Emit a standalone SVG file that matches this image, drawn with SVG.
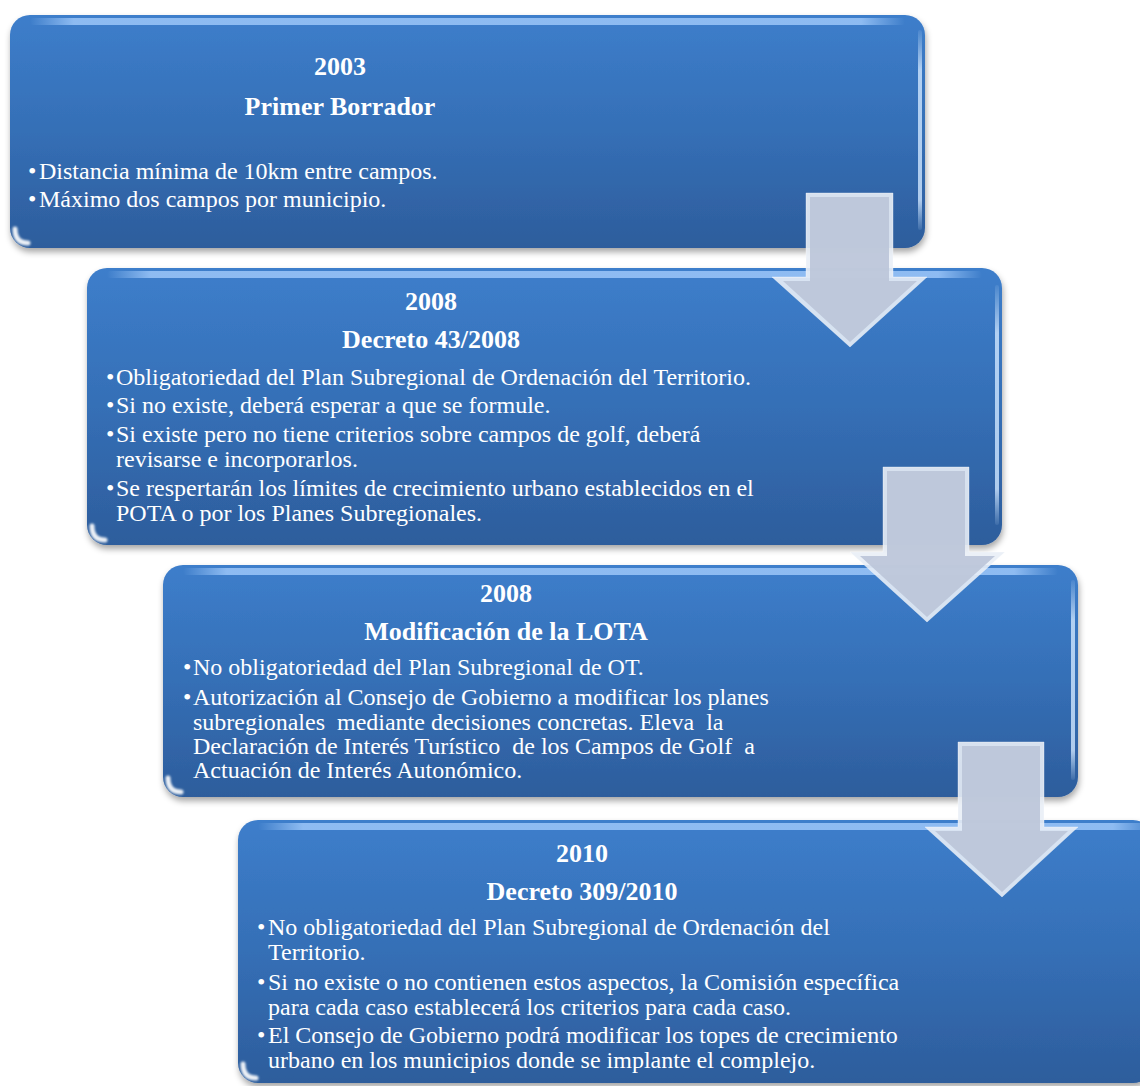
<svg xmlns="http://www.w3.org/2000/svg" width="1140" height="1086" viewBox="0 0 1140 1086">
<defs>
<linearGradient id="boxFill" x1="0" y1="0" x2="0" y2="1">
<stop offset="0" stop-color="#3d7ecb"/>
<stop offset="0.5" stop-color="#356fb6"/>
<stop offset="1" stop-color="#2d5d9c"/>
</linearGradient>
<linearGradient id="topGloss" x1="0" y1="0" x2="1" y2="0">
<stop offset="0" stop-color="#a9d0ff" stop-opacity="0"/>
<stop offset="0.05" stop-color="#a9d0ff" stop-opacity="0.75"/>
<stop offset="0.95" stop-color="#a9d0ff" stop-opacity="0.75"/>
<stop offset="1" stop-color="#a9d0ff" stop-opacity="0"/>
</linearGradient>
<linearGradient id="sideGloss" x1="0" y1="0" x2="0" y2="1">
<stop offset="0" stop-color="#cfe6ff" stop-opacity="0.1"/>
<stop offset="0.2" stop-color="#cfe6ff" stop-opacity="0.8"/>
<stop offset="0.85" stop-color="#cfe6ff" stop-opacity="0.8"/>
<stop offset="1" stop-color="#cfe6ff" stop-opacity="0.1"/>
</linearGradient>
<filter id="shadow" x="-5%" y="-5%" width="110%" height="120%">
<feGaussianBlur in="SourceAlpha" stdDeviation="3"/>
<feOffset dx="1" dy="4" result="b"/>
<feFlood flood-color="#000" flood-opacity="0.35"/>
<feComposite in2="b" operator="in"/>
<feMerge><feMergeNode/><feMergeNode in="SourceGraphic"/></feMerge>
</filter>
<filter id="soft" x="-50%" y="-50%" width="200%" height="200%">
<feGaussianBlur stdDeviation="1.2"/>
</filter>
</defs>
<style>
.box{fill:url(#boxFill);filter:url(#shadow)}
.gloss{fill:url(#topGloss)}
.side{fill:url(#sideGloss)}
.corner{fill:none;stroke:#ffffff;stroke-opacity:0.9;stroke-width:5;stroke-linecap:round;filter:url(#soft)}
.h{font-family:"Liberation Serif","Times New Roman",serif;font-size:26px;font-weight:bold;fill:#ffffff;text-anchor:middle}
.t{font-family:"Liberation Serif","Times New Roman",serif;font-size:24px;fill:#ffffff;white-space:pre}
.arrowOuter{fill:#e9eef6;fill-opacity:0.9}
.arrowInner{fill:#bcc6d9;fill-opacity:0.92}
.arrowEdge{fill:none;stroke:#ffffff;stroke-opacity:0.35;stroke-width:1}
</style>

<g id="node-2003">
<rect class="box" x="10" y="15" width="915" height="233" rx="20"/>
<rect class="gloss" x="30" y="18" width="875" height="7" rx="3.5"/>
<rect class="side" x="918" y="30" width="4" height="200" rx="2"/>
<path class="corner" d="M15,229 Q15,243 28,243"/>
<text class="h" x="340" y="75">2003</text>
<text class="h" x="340" y="115">Primer Borrador</text>
<text class="t" x="28" y="179">•</text>
<text class="t" x="39" y="179">Distancia mínima de 10km entre campos.</text>
<text class="t" x="28" y="207">•</text>
<text class="t" x="39" y="207">Máximo dos campos por municipio.</text>
</g>

<g id="node-2008-decreto">
<rect class="box" x="87" y="268" width="915" height="277" rx="20"/>
<rect class="gloss" x="107" y="271" width="875" height="7" rx="3.5"/>
<rect class="side" x="995" y="285" width="4" height="240" rx="2"/>
<path class="corner" d="M92,526 Q92,540 105,540"/>
<text class="h" x="431" y="310">2008</text>
<text class="h" x="431" y="348">Decreto 43/2008</text>
<text class="t" x="106" y="385">•</text>
<text class="t" x="116" y="385">Obligatoriedad del Plan Subregional de Ordenación del Territorio.</text>
<text class="t" x="106" y="413">•</text>
<text class="t" x="116" y="413">Si no existe, deberá esperar a que se formule.</text>
<text class="t" x="106" y="442">•</text>
<text class="t" x="116" y="442">Si existe pero no tiene criterios sobre campos de golf, deberá</text>
<text class="t" x="116" y="467">revisarse e incorporarlos.</text>
<text class="t" x="106" y="496">•</text>
<text class="t" x="116" y="496">Se respertarán los límites de crecimiento urbano establecidos en el</text>
<text class="t" x="116" y="521">POTA o por los Planes Subregionales.</text>
</g>

<g id="node-2008-lota">
<rect class="box" x="163" y="565" width="915" height="232" rx="20"/>
<rect class="gloss" x="183" y="568" width="875" height="7" rx="3.5"/>
<rect class="side" x="1071" y="580" width="4" height="200" rx="2"/>
<path class="corner" d="M168,778 Q168,792 181,792"/>
<text class="h" x="506" y="602">2008</text>
<text class="h" x="506" y="640">Modificación de la LOTA</text>
<text class="t" x="183" y="675">•</text>
<text class="t" x="193" y="675">No obligatoriedad del Plan Subregional de OT.</text>
<text class="t" x="183" y="705">•</text>
<text class="t" x="193" y="705">Autorización al Consejo de Gobierno a modificar los planes</text>
<text class="t" x="193" y="730">subregionales  mediante decisiones concretas. Eleva  la</text>
<text class="t" x="193" y="754">Declaración de Interés Turístico  de los Campos de Golf  a</text>
<text class="t" x="193" y="778">Actuación de Interés Autonómico.</text>
</g>

<g id="node-2010">
<rect class="box" x="238" y="820" width="915" height="263" rx="20"/>
<rect class="gloss" x="258" y="823" width="900" height="7" rx="3.5"/>
<path class="corner" d="M243,1064 Q243,1078 256,1078"/>
<text class="h" x="582" y="862">2010</text>
<text class="h" x="582" y="900">Decreto 309/2010</text>
<text class="t" x="257" y="935">•</text>
<text class="t" x="268" y="935">No obligatoriedad del Plan Subregional de Ordenación del</text>
<text class="t" x="268" y="960">Territorio.</text>
<text class="t" x="257" y="990">•</text>
<text class="t" x="268" y="990">Si no existe o no contienen estos aspectos, la Comisión específica</text>
<text class="t" x="268" y="1015">para cada caso establecerá los criterios para cada caso.</text>
<text class="t" x="257" y="1043">•</text>
<text class="t" x="268" y="1043">El Consejo de Gobierno podrá modificar los topes de crecimiento</text>
<text class="t" x="268" y="1068">urbano en los municipios donde se implante el complejo.</text>
</g>

<g id="connectors">
<g id="arrow-1">
<path class="arrowOuter" d="M806,193 H893 V277 H927 L850,347 L772,277 H806 Z"/>
<path class="arrowInner" d="M810,197 H889 V281 H917 L850,342 L783,281 H810 Z"/>
<path class="arrowEdge" d="M806,193 H893 V277 H927 L850,347 L772,277 H806 Z"/>
</g>
<g id="arrow-2">
<path class="arrowOuter" d="M883,467 H969 V552 H1005 L927,622 L850,552 H883 Z"/>
<path class="arrowInner" d="M887,471 H965 V556 H995 L927,617 L860,556 H887 Z"/>
<path class="arrowEdge" d="M883,467 H969 V552 H1005 L927,622 L850,552 H883 Z"/>
</g>
<g id="arrow-3">
<path class="arrowOuter" d="M958,742 H1044 V827 H1078 L1002,897 L925,827 H958 Z"/>
<path class="arrowInner" d="M962,746 H1040 V831 H1068 L1002,892 L935,831 H962 Z"/>
<path class="arrowEdge" d="M958,742 H1044 V827 H1078 L1002,897 L925,827 H958 Z"/>
</g>
</g>
</svg>
